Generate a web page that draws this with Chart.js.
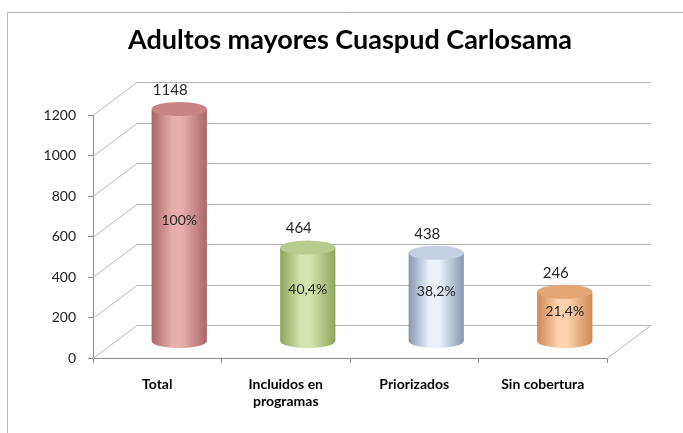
<!DOCTYPE html>
<html>
<head>
<meta charset="utf-8">
<script src="https://cdn.jsdelivr.net/npm/chart.js@4.4.1/dist/chart.umd.min.js"></script>
<style>
  html, body { margin: 0; padding: 0; background: #fff; }
</style>
</head>
<body>
<canvas id="myChart" width="683" height="433"></canvas>
<script>
const ctx = document.getElementById('myChart');

let myLabels   = [['Total'], ['Incluidos en', 'programas'], ['Priorizados'], ['Sin cobertura']];
let myData     = [1148, 464, 438, 246];
let myPercents = ['100%', '40,4%', '38,2%', '21,4%'];
let yTicks     = [0, 200, 400, 600, 800, 1000, 1200];

// colores de cada cilindro: [borde oscuro, brillo, tapa]
let myColors = [
  ['#a96765', '#e9aeac', '#c98583'],
  ['#8ea55b', '#d4e4ae', '#b7cb8e'],
  ['#8898b0', '#ebf2fc', '#c4d0e1'],
  ['#cd8852', '#fdd2ad', '#e4a674']
];

const depth = { x: 44, y: -33 };
const gridColor = '#b4b4b4';
const axisColor = '#8c8c8c';

function drawCylinder(c, cx, top, bottom, rx, ry, col) {
  let g = c.createLinearGradient(cx - rx, 0, cx + rx, 0);
  g.addColorStop(0, col[0]);
  g.addColorStop(0.38, col[1]);
  g.addColorStop(0.55, col[1]);
  g.addColorStop(1, col[0]);
  c.fillStyle = g;
  c.beginPath();
  c.moveTo(cx - rx, top);
  c.lineTo(cx - rx, bottom);
  c.ellipse(cx, bottom, rx, ry, 0, Math.PI, 0, true);
  c.lineTo(cx + rx, top);
  c.closePath();
  c.fill();

  c.fillStyle = col[2];
  c.beginPath();
  c.ellipse(cx, top, rx, ry, 0, 0, Math.PI * 2);
  c.fill();
}

const threeD = {
  id: 'threeD',
  beforeDraw(chart) {
    const c = chart.ctx;
    c.save();
    c.strokeStyle = '#b8b8b8';
    c.lineWidth = 1;
    c.beginPath();
    c.moveTo(7.5, 440);
    c.lineTo(7.5, 12.5);
    c.lineTo(690, 12.5);
    c.stroke();
    c.restore();
  },
  beforeDatasetsDraw(chart) {
    const c = chart.ctx;
    const y = chart.scales.y;
    const a = chart.chartArea;
    c.save();
    c.strokeStyle = gridColor;
    c.lineWidth = 1;
    yTicks.forEach(v => {
      const py = Math.round(y.getPixelForValue(v)) + 0.5;
      c.beginPath();
      c.moveTo(a.left, py);
      c.lineTo(a.left + depth.x, py + depth.y);
      c.lineTo(a.right + depth.x, py + depth.y);
      c.stroke();
    });
    // suelo, lado derecho
    const by = Math.round(y.getPixelForValue(0)) + 0.5;
    c.beginPath();
    c.moveTo(a.right, by);
    c.lineTo(a.right + depth.x, by + depth.y);
    c.stroke();
    c.restore();
  },
  afterDatasetsDraw(chart) {
    const c = chart.ctx;
    const meta = chart.getDatasetMeta(0);
    c.save();
    meta.data.forEach((bar, i) => {
      const cx = bar.x + depth.x / 2;
      const top = bar.y + depth.y / 2;
      const bottom = bar.base + depth.y / 2;
      const rx = bar.width / 2;
      drawCylinder(c, cx, top, bottom, rx, 7, myColors[i]);

      c.fillStyle = '#262626';
      c.textAlign = 'center';
      c.textBaseline = 'middle';
      c.font = '15px Lato';
      c.fillText(String(myData[i]), cx - 9, top - 19);
      c.font = '14px Lato';
      c.fillText(myPercents[i], cx, (top + bottom) / 2 - 5);
    });
    c.restore();
  }
};

new Chart(ctx, {
  type: 'bar',
  data: {
    labels: myLabels,
    datasets: [{
      data: myData,
      backgroundColor: 'rgba(0,0,0,0)',
      borderWidth: 0,
      categoryPercentage: 1,
      barPercentage: 0.43
    }]
  },
  options: {
    responsive: false,
    animation: false,
    layout: { padding: { left: 0, right: 76, top: 0, bottom: 0 } },
    plugins: {
      legend: { display: false },
      tooltip: { enabled: false },
      title: {
        display: true,
        text: 'Adultos mayores Cuaspud Carlosama',
        fullSize: false,
        color: '#000',
        font: { family: 'Lato', size: 27, weight: 'bold' },
        padding: { top: 24, bottom: 58.6 }
      }
    },
    scales: {
      x: {
        grid: { offset: true, drawOnChartArea: false, tickLength: 5, color: axisColor },
        border: { color: axisColor },
        ticks: { font: { family: 'Lato', size: 14, weight: 'bold' }, color: '#000', padding: 13, maxRotation: 0 },
        afterFit: s => { s.height = 75; }
      },
      y: {
        min: 0,
        max: 1200,
        afterBuildTicks: s => { s.ticks = yTicks.map(v => ({ value: v })); },
        ticks: { font: { family: 'Lato', size: 14 }, color: '#222', padding: 12, callback: v => String(v) },
        grid: { drawOnChartArea: false, tickLength: 5, color: axisColor },
        border: { color: axisColor },
        afterFit: s => { s.width = 93; }
      }
    }
  },
  plugins: [threeD]
});
</script>
</body>
</html>
